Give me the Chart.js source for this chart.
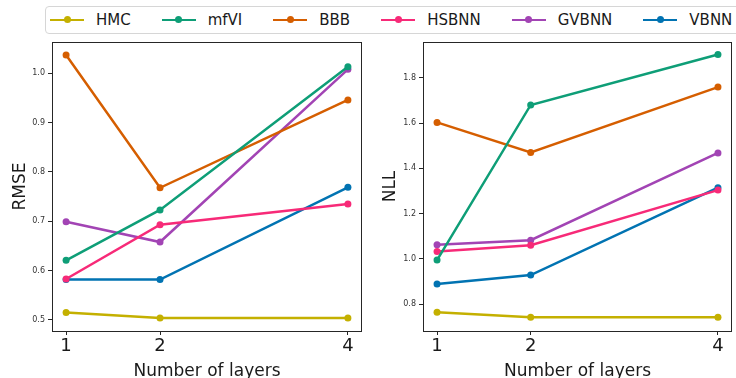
<!DOCTYPE html>
<html><head><meta charset="utf-8">
<script src="https://cdn.jsdelivr.net/npm/chart.js@4"></script>
<style>
html,body{margin:0;padding:0;background:#fff;width:736px;height:378px;overflow:hidden;font-family:"DejaVu Sans";}
#wl{position:absolute;left:0;top:0;width:368px;height:378px}
#wr{position:absolute;left:368px;top:0;width:368px;height:378px}
#legend{position:absolute;left:45px;top:6px;width:720px;height:28px;border:1px solid #d6d6d6;border-radius:4px;display:flex;align-items:center;box-sizing:border-box;padding-left:4px;background:#fff;z-index:2}
.item{display:flex;align-items:center;margin-right:31px}
.sw{position:relative;width:34px;height:2.5px;margin-right:12px}
.sw i{position:absolute;left:13.5px;top:-2.5px;width:7px;height:7px;border-radius:50%}
.lab{font-size:15px;color:#1a1a1a;line-height:1}
</style></head>
<body>
<div id="legend"></div>
<div id="wl"><canvas id="cl" width="368" height="378"></canvas></div>
<div id="wr"><canvas id="cr" width="368" height="378"></canvas></div>
<script>
const layers = [1, 2, 4];
const methods = ['HMC', 'mfVI', 'BBB', 'HSBNN', 'GVBNN', 'VBNN'];
const colors = ['#c4b000', '#0e9e77', '#d55e00', '#f72a78', '#a244b4', '#0173b2'];

const rmseHMC   = [0.515, 0.504, 0.504];
const rmseMfVI  = [0.621, 0.723, 1.013];
const rmseBBB   = [1.037, 0.768, 0.946];
const rmseHSBNN = [0.583, 0.693, 0.735];
const rmseGVBNN = [0.699, 0.658, 1.008];
const rmseVBNN  = [0.582, 0.582, 0.769];

const nllHMC   = [0.765, 0.743, 0.743];
const nllMfVI  = [0.995, 1.680, 1.903];
const nllBBB   = [1.603, 1.470, 1.759];
const nllHSBNN = [1.033, 1.061, 1.304];
const nllGVBNN = [1.063, 1.083, 1.468];
const nllVBNN  = [0.890, 0.929, 1.315];

const xTicks = [1, 2, 4];
const rmseTicks = [0.5, 0.6, 0.7, 0.8, 0.9, 1.0];
const nllTicks = [0.8, 1.0, 1.2, 1.4, 1.6, 1.8];

const rmseSeries = [rmseHMC, rmseMfVI, rmseBBB, rmseHSBNN, rmseGVBNN, rmseVBNN];
const nllSeries = [nllHMC, nllMfVI, nllBBB, nllHSBNN, nllGVBNN, nllVBNN];

// legend
const lg = document.getElementById('legend');
methods.forEach((m, i) => {
  const it = document.createElement('div'); it.className = 'item';
  const sw = document.createElement('div'); sw.className = 'sw'; sw.style.background = colors[i];
  const dot = document.createElement('i'); dot.style.background = colors[i]; sw.appendChild(dot);
  const lab = document.createElement('span'); lab.className = 'lab'; lab.textContent = m;
  it.appendChild(sw); it.appendChild(lab); lg.appendChild(it);
});

const frame = {
  id: 'frame',
  afterDatasetsDraw(chart) {
    const a = chart.chartArea, c = chart.ctx;
    c.save(); c.strokeStyle = '#262626'; c.lineWidth = 1;
    c.strokeRect(Math.round(a.left) + 0.5, Math.round(a.top) + 0.5, Math.round(a.right - a.left) - 1, Math.round(a.bottom - a.top));
    c.restore();
  }
};

function makeChart(id, series, yTicks, yMin, yMax, yTitle, yWidth, padRight, titlePad) {
  return new Chart(document.getElementById(id), {
    type: 'line',
    data: {
      datasets: series.map((s, i) => ({
        label: methods[i],
        data: layers.map((x, j) => ({ x: x, y: s[j] })),
        borderColor: colors[i], backgroundColor: colors[i],
        pointBackgroundColor: colors[i], pointBorderColor: colors[i],
        borderWidth: 2.5, pointRadius: 3.5, pointBorderWidth: 0, tension: 0
      }))
    },
    options: {
      responsive: false, animation: false,
      layout: { padding: { top: 42, right: padRight, left: 0, bottom: 0 } },
      plugins: { legend: { display: false }, tooltip: { enabled: false } },
      scales: {
        x: {
          type: 'linear', min: 0.85, max: 4.15,
          afterBuildTicks: s => { s.ticks = xTicks.map(v => ({ value: v })); },
          afterFit: s => { s.height = 47; },
          border: { display: false },
          grid: { drawOnChartArea: false, drawTicks: true, tickLength: 4, color: '#262626' },
          ticks: { color: '#1a1a1a', font: { family: 'DejaVu Sans', size: 18 }, padding: 1, maxRotation: 0, callback: v => String(v) },
          title: { display: true, text: 'Number of layers', color: '#1a1a1a', font: { family: 'DejaVu Sans', size: 17 }, padding: { top: 0, bottom: -4 } }
        },
        y: {
          type: 'linear', min: yMin, max: yMax,
          afterBuildTicks: s => { s.ticks = yTicks.map(v => ({ value: v })); },
          afterFit: s => { s.width = yWidth; },
          border: { display: false },
          grid: { drawOnChartArea: false, drawTicks: true, tickLength: 4, color: '#262626' },
          ticks: { color: '#333', font: { family: 'DejaVu Sans', size: 8 }, padding: 3, callback: v => Number(v).toFixed(1) },
          title: { display: true, text: yTitle, color: '#1a1a1a', font: { family: 'DejaVu Sans', size: 17 }, padding: { top: titlePad, bottom: 0 } }
        }
      }
    },
    plugins: [frame]
  });
}

makeChart('cl', rmseSeries, rmseTicks, 0.4777, 1.0634, 'RMSE', 52, 6, 10);
makeChart('cr', nllSeries, nllTicks, 0.682, 1.958, 'NLL', 55, 3, 12);
</script>
</body></html>
